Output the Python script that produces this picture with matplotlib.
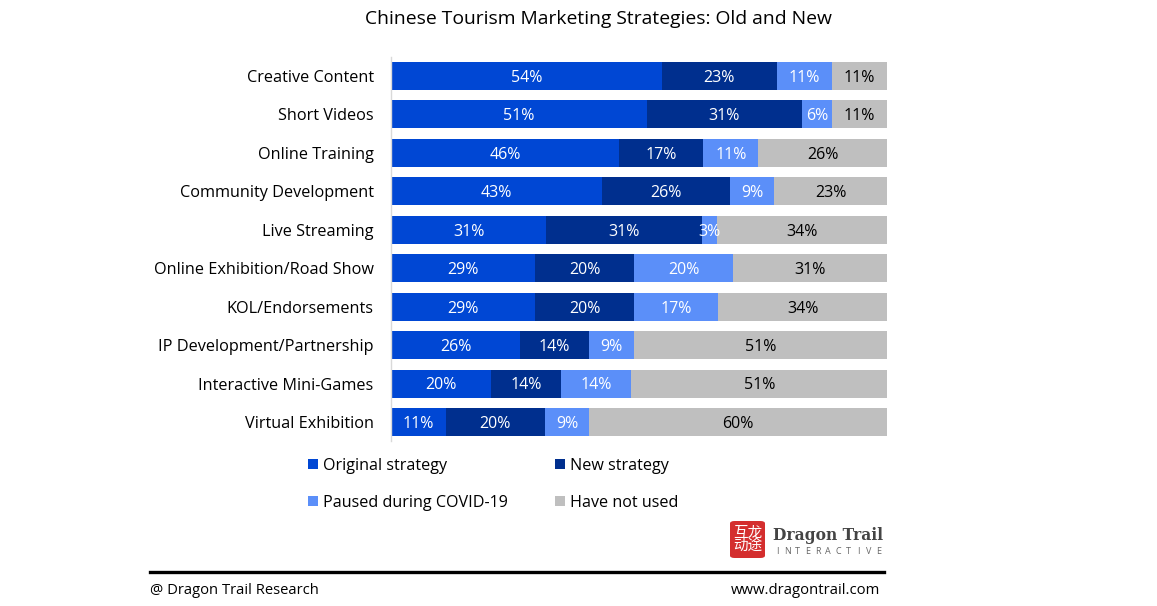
import matplotlib
matplotlib.use("Agg")
import matplotlib.pyplot as plt
import numpy as np
from matplotlib.patches import Rectangle, FancyBboxPatch

plt.rcParams['font.family'] = ['Open Sans', 'Noto Sans CJK SC', 'DejaVu Sans']

categories = ["Creative Content", "Short Videos", "Online Training", "Community Development",
              "Live Streaming", "Online Exhibition/Road Show", "KOL/Endorsements",
              "IP Development/Partnership", "Interactive Mini-Games", "Virtual Exhibition"]
original = [54, 51, 46, 43, 31, 29, 29, 26, 20, 11]
new = [23, 31, 17, 26, 31, 20, 20, 14, 14, 20]
paused = [11, 6, 11, 9, 3, 20, 17, 9, 14, 9]
not_used = [11, 11, 26, 23, 34, 31, 34, 51, 51, 60]
series_names = ["Original strategy", "New strategy", "Paused during COVID-19", "Have not used"]
colors = ["#0047D4", "#002F8E", "#5B8FF9", "#BFBFBF"]
text_colors = ["white", "white", "white", "black"]

W, H = 1157, 606
fig = plt.figure(figsize=(W / 100, H / 100), dpi=100)
fig.patch.set_facecolor("white")

def fx(px):
    return px / W

def fy(py):
    return 1 - py / H

ax = fig.add_axes([fx(391), fy(441.2), fx(887) - fx(391), fy(56.8) - fy(441.2)])
data = np.array([original, new, paused, not_used], dtype=float)
totals = data.sum(axis=0)
frac = data / totals * 100
y = np.arange(len(categories))
left = np.zeros(len(categories))
for i in range(4):
    ax.barh(y, frac[i], left=left, height=0.73, color=colors[i], edgecolor="none")
    for j in range(len(categories)):
        ax.text(left[j] + frac[i][j] / 2, y[j] + 0.05, f"{int(data[i][j])}%", ha="center", va="center",
                color=text_colors[i], fontsize=11.5)
    left += frac[i]

ax.set_xlim(0, 100)
ax.set_ylim(len(categories) - 0.5, -0.5)
ax.set_yticks(y)
ax.set_yticklabels(categories, fontsize=11.7, color="#000000")
ax.tick_params(axis="y", length=0, pad=12.5)
ax.set_xticks([])
for s in ["top", "right", "bottom"]:
    ax.spines[s].set_visible(False)
ax.spines["left"].set_color("#D9D9D9")
ax.spines["left"].set_linewidth(1.0)

fig.text(fx(598), fy(19), "Chinese Tourism Marketing Strategies: Old and New", ha="center", va="center",
         fontsize=13.9, color="#000000")

# Legend
leg_pos = [(308, 464), (555, 464), (308, 501), (555, 501)]
for (px, py), name, c in zip(leg_pos, series_names, colors):
    fig.patches.append(Rectangle((fx(px), fy(py + 5)), fx(10), 10 / H, transform=fig.transFigure,
                                 facecolor=c, edgecolor="none"))
    fig.text(fx(px + 15), fy(py + 2), name, ha="left", va="center", fontsize=11.6, color="#000000")

# Logo
fig.patches.append(FancyBboxPatch((fx(730), fy(558)), fx(35), 37 / H, transform=fig.transFigure,
                                  boxstyle="round,pad=0,rounding_size=0.004",
                                  facecolor="#D42E2E", edgecolor="none"))
fig.text(fx(747.5), fy(539.5), "互龙\n动途", ha="center", va="center", fontsize=10.5,
         color="white", linespacing=0.9, family=['Noto Sans CJK SC', 'DejaVu Sans'])
fig.text(fx(773), fy(535), "Dragon Trail", ha="left", va="center", fontsize=11.2,
         color="#444444", fontweight="bold", family=['DejaVu Serif'])
letters = "INTERACTIVE"
for k, ch in enumerate(letters):
    fig.text(fx(777 + k * 10.2), fy(551.5), ch, ha="center", va="center", fontsize=6.5,
             color="#666666")

# Footer
fig.add_artist(plt.Line2D([fx(150), fx(884)], [fy(572), fy(572)], transform=fig.transFigure,
                          color="black", linewidth=2.4))
fig.text(fx(150), fy(591), "@ Dragon Trail Research", ha="left", va="center", fontsize=10.6, color="#000000")
fig.text(fx(880), fy(591), "www.dragontrail.com", ha="right", va="center", fontsize=10.7, color="#000000")

fig.savefig("out.png", dpi=100, facecolor="white")
